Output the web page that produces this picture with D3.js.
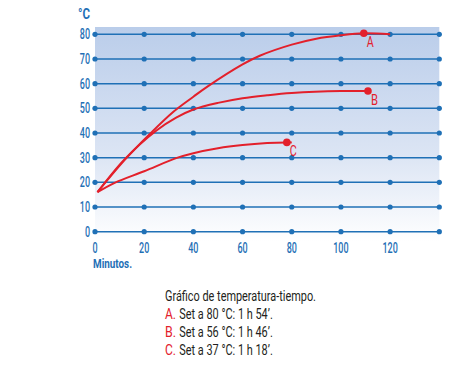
<!DOCTYPE html>
<html>
<head>
<meta charset="utf-8">
<script src="https://cdn.jsdelivr.net/npm/d3@7"></script>
<style>
  body { margin: 0; background: #fff; }
  svg text { font-family: "Roboto", "DejaVu Sans", sans-serif; }
</style>
</head>
<body>
<div id="chart"></div>
<script>
// temperature ticks and time ticks
const TEMP_TICKS = [0, 10, 20, 30, 40, 50, 60, 70, 80];
const TIME_TICKS = [0, 20, 40, 60, 80, 100, 120, 140];
const TIME_LABELS = ["0", "20", "40", "60", "80", "100", "120", ""];

// curves: [minutes, °C]
const curveA = [[1, 16], [12, 29], [22, 39.3], [32, 48.7], [40, 54.7], [46, 59], [60, 67.8], [67, 71.3], [80, 75.8], [90, 78.2], [100, 79.6], [109.3, 80.4], [120, 80]];
const curveB = [[1, 16], [12, 29.3], [25, 41], [33, 46.2], [40, 49.5], [50, 52.2], [60, 54.1], [70, 55.3], [80, 56.2], [100, 57], [111, 57]];
const curveC = [[1, 16], [8, 19.8], [20, 24.5], [33, 29.8], [40, 31.8], [50, 33.8], [60, 35.1], [70, 35.9], [78, 36.2], [80, 36.2]];

// end markers
const endNames = ["A", "B", "C"];
const endPoints = [[109.3, 80.4], [111, 57], [78, 36.2]];

const captionTitle = "Gráfico de temperatura-tiempo.";
const captionLines = ["Set a 80 °C: 1 h 54’.", "Set a 56 °C: 1 h 46’.", "Set a 37 °C: 1 h 18’."];

var width = 461, height = 373;
var blue = "#1f70b6", red = "#e3202b";

var svg = d3.select("#chart").append("svg").attr("width", width).attr("height", height);

var x = d3.scaleLinear().domain([0, 140]).range([95, 439.3]);
var y = d3.scaleLinear().domain([0, 80]).range([231.7, 34.3]);

// background gradient
var grad = svg.append("defs").append("linearGradient")
    .attr("id", "bg").attr("x1", 0).attr("y1", 0).attr("x2", 0).attr("y2", 1);
grad.append("stop").attr("offset", "0%").attr("stop-color", "#bacdea");
grad.append("stop").attr("offset", "60%").attr("stop-color", "#dce5f4");
grad.append("stop").attr("offset", "100%").attr("stop-color", "#ffffff");

svg.append("rect")
    .attr("x", x(0)).attr("y", 27)
    .attr("width", x(140) - x(0)).attr("height", 215)
    .attr("fill", "url(#bg)");

// horizontal grid lines with dots
svg.append("g").selectAll("line").data(TEMP_TICKS).join("line")
    .attr("x1", x(0)).attr("x2", x(140))
    .attr("y1", d => y(d)).attr("y2", d => y(d))
    .attr("stroke", blue).attr("stroke-width", 1.5);

var dotData = [];
TEMP_TICKS.forEach(t => TIME_TICKS.forEach(m => dotData.push([m, t])));
svg.append("g").selectAll("circle").data(dotData).join("circle")
    .attr("cx", d => x(d[0])).attr("cy", d => y(d[1]))
    .attr("r", 2.6).attr("fill", blue);

// labels are squeezed to look like the condensed face of the original
var digitW = 5.1;

// y labels
svg.append("g").selectAll("text").data(TEMP_TICKS).join("text")
    .attr("x", 90).attr("y", d => y(d) + 5)
    .attr("text-anchor", "end")
    .attr("textLength", d => String(d).length * digitW).attr("lengthAdjust", "spacingAndGlyphs")
    .attr("fill", blue).style("font-size", "14px").style("font-weight", 500)
    .text(d => d);

svg.append("text").attr("x", 78).attr("y", 19)
    .attr("textLength", 12).attr("lengthAdjust", "spacingAndGlyphs")
    .attr("fill", blue).style("font-size", "14px").style("font-weight", "bold")
    .text("°C");

// x labels
svg.append("g").selectAll("text").data(TIME_TICKS).join("text")
    .attr("x", d => x(d)).attr("y", 252.5)
    .attr("text-anchor", "middle")
    .attr("textLength", (d, i) => TIME_LABELS[i].length * digitW).attr("lengthAdjust", "spacingAndGlyphs")
    .attr("fill", blue).style("font-size", "14px").style("font-weight", 500)
    .text((d, i) => TIME_LABELS[i]);

svg.append("text").attr("x", 93).attr("y", 267.5)
    .attr("textLength", 39).attr("lengthAdjust", "spacingAndGlyphs")
    .attr("fill", blue).style("font-size", "13px").style("font-weight", "bold")
    .text("Minutos.");

// curves
var line = d3.line().x(d => x(d[0])).y(d => y(d[1])).curve(d3.curveCatmullRom.alpha(0.5));
[curveA, curveB, curveC].forEach(c => {
    svg.append("path").datum(c)
        .attr("fill", "none").attr("stroke", red).attr("stroke-width", 2)
        .attr("d", line);
});

svg.append("g").selectAll("circle").data(endPoints).join("circle")
    .attr("cx", d => x(d[0])).attr("cy", d => y(d[1]))
    .attr("r", 3.8).attr("fill", red);

svg.append("g").selectAll("text").data(endPoints).join("text")
    .attr("x", d => x(d[0]) + 3).attr("y", d => y(d[1]) + 14)
    .attr("textLength", 7).attr("lengthAdjust", "spacingAndGlyphs")
    .attr("fill", red).style("font-size", "14px")
    .text((d, i) => endNames[i]);

// caption
svg.append("text").attr("x", 165).attr("y", 300.5)
    .attr("fill", "#231f20").style("font-size", "15.5px")
    .attr("textLength", 151).attr("lengthAdjust", "spacingAndGlyphs")
    .text(captionTitle);

captionLines.forEach((t, i) => {
    var yy = 318.5 + i * 18;
    svg.append("text").attr("x", 165).attr("y", yy)
        .style("font-size", "15.5px").attr("fill", red)
        .attr("textLength", 11).attr("lengthAdjust", "spacingAndGlyphs")
        .text(endNames[i] + ".");
    svg.append("text").attr("x", 179.3).attr("y", yy)
        .style("font-size", "15.5px").attr("fill", "#231f20")
        .attr("textLength", 93.5).attr("lengthAdjust", "spacingAndGlyphs")
        .text(t);
});
</script>
</body>
</html>
